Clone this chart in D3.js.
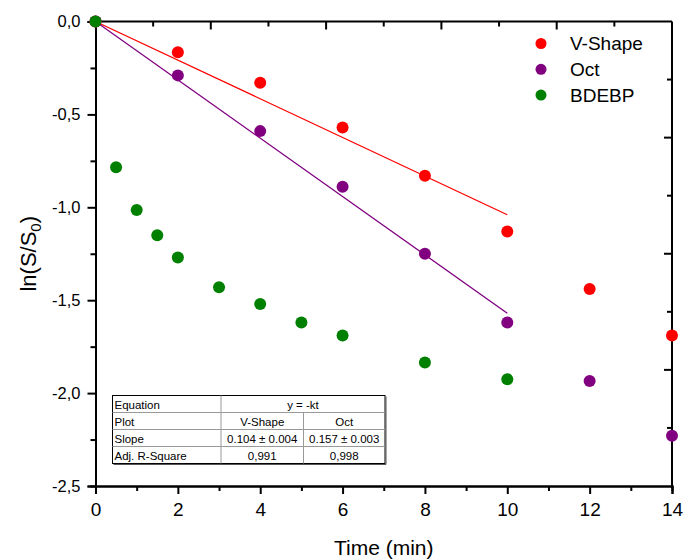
<!DOCTYPE html>
<html>
<head>
<meta charset="utf-8">
<script src="https://cdn.jsdelivr.net/npm/d3@7"></script>
<style>
  body { margin: 0; background: #fff; }
  svg { display: block; font-family: Arial, "Liberation Sans", sans-serif; }
</style>
</head>
<body>
<svg id="chart" width="685" height="559"></svg>
<script>
// data
const timeVShape = [0, 2, 4, 6, 8, 10, 12, 14];
const lnVShape = [0, -0.165, -0.33, -0.57, -0.83, -1.13, -1.44, -1.69];
const timeOct = [0, 2, 4, 6, 8, 10, 12, 14];
const lnOct = [0, -0.29, -0.59, -0.89, -1.25, -1.62, -1.935, -2.23];
const timeBdebp = [0, 0.5, 1, 1.5, 2, 3, 4, 5, 6, 8, 10];
const lnBdebp = [0, -0.785, -1.015, -1.15, -1.27, -1.43, -1.52, -1.62, -1.69, -1.835, -1.925];

// linear fits y = -k t, drawn over 0..10
const fitNames = ["V-Shape", "Oct"];
const fitSlopes = [0.104, 0.157];
const fitRange = [0, 10];

const xMajorTicks = [0, 2, 4, 6, 8, 10, 12, 14];
const xMinorTicks = [1, 3, 5, 7, 9, 11, 13];
const yMajorTicks = [0, -0.5, -1, -1.5, -2, -2.5];
const yMinorTicks = [-0.25, -0.75, -1.25, -1.75, -2.25];

const legendNames = ["V-Shape", "Oct", "BDEBP"];
const colors = ["#ff0000", "#800080", "#008000"];

const tableRows = [
  ["Equation", "y = -kt"],
  ["Plot", "V-Shape", "Oct"],
  ["Slope", "0.104 \u00b1 0.004", "0.157 \u00b1 0.003"],
  ["Adj. R-Square", "0,991", "0,998"]
];

const svg = d3.select("#chart");
const plotLeft = 95.5, plotRight = 672, plotTop = 21.5, plotBottom = 486;

const x = d3.scaleLinear().domain([0, 14]).range([plotLeft, plotRight]);
const y = d3.scaleLinear().domain([-2.5, 0]).range([plotBottom, plotTop]);
const fmt = v => d3.format(".1f")(v).replace(".", ",").replace("\u2212", "-");

// bottom axis
const gx = svg.append("g").attr("transform", `translate(0,${plotBottom})`);
gx.call(d3.axisBottom(x).tickValues(xMajorTicks).tickSize(8).tickPadding(9).tickFormat(d3.format("d")));
gx.append("g").call(d3.axisBottom(x).tickValues(xMinorTicks).tickSize(5).tickFormat(""));

// left axis
const gy = svg.append("g").attr("transform", `translate(${plotLeft},0)`);
gy.call(d3.axisLeft(y).tickValues(yMajorTicks).tickSize(8).tickPadding(7).tickFormat(fmt));
gy.append("g").call(d3.axisLeft(y).tickValues(yMinorTicks).tickSize(5).tickFormat(""));

svg.selectAll(".domain").attr("stroke", "#000").attr("stroke-width", 2);
svg.selectAll(".tick line").attr("stroke", "#000").attr("stroke-width", 2);
svg.selectAll(".tick text").attr("font-family", "Arial, 'Liberation Sans', sans-serif").attr("fill", "#000");
gx.selectAll(".tick text").attr("font-size", 19);
gy.selectAll(".tick text").attr("font-size", 16.5);

// top and right frame with inward ticks (10 and 8 divisions)
svg.append("line").attr("x1", plotLeft).attr("x2", plotRight).attr("y1", plotTop).attr("y2", plotTop)
  .attr("stroke", "#000").attr("stroke-width", 2);
svg.append("line").attr("x1", plotRight).attr("x2", plotRight).attr("y1", plotTop).attr("y2", plotBottom)
  .attr("stroke", "#000").attr("stroke-width", 2);
const topScale = d3.scaleLinear().domain([0, 10]).range([plotLeft, plotRight]);
svg.append("g").selectAll("line").data(d3.range(1, 10)).join("line")
  .attr("x1", d => topScale(d)).attr("x2", d => topScale(d))
  .attr("y1", plotTop).attr("y2", d => plotTop + (d % 2 === 0 ? 8 : 5))
  .attr("stroke", "#000").attr("stroke-width", 2);
const rightScale = d3.scaleLinear().domain([0, 8]).range([plotTop, plotBottom]);
svg.append("g").selectAll("line").data(d3.range(1, 8)).join("line")
  .attr("y1", d => rightScale(d)).attr("y2", d => rightScale(d))
  .attr("x1", plotRight).attr("x2", d => plotRight - (d % 2 === 0 ? 8 : 5))
  .attr("stroke", "#000").attr("stroke-width", 2);

// axis titles
svg.append("text").attr("x", (plotLeft + plotRight) / 2).attr("y", 555).attr("text-anchor", "middle")
  .attr("font-size", 21).text("Time (min)");
const yt = svg.append("text").attr("transform", `translate(36,${(plotTop + plotBottom) / 2}) rotate(-90)`)
  .attr("text-anchor", "middle").attr("font-size", 22);
yt.append("tspan").text("ln(S/S");
yt.append("tspan").attr("font-size", 15).attr("dy", 5).text("0");
yt.append("tspan").attr("dy", -5).text(")");

// fit lines
fitSlopes.forEach((k, i) => {
  svg.append("line")
    .attr("x1", x(fitRange[0])).attr("y1", y(-k * fitRange[0]))
    .attr("x2", x(fitRange[1])).attr("y2", y(-k * fitRange[1]))
    .attr("stroke", colors[i]).attr("stroke-width", 1.3);
});

// scatter points
const series = [
  { t: timeVShape, v: lnVShape },
  { t: timeOct, v: lnOct },
  { t: timeBdebp, v: lnBdebp }
];
series.forEach((s, i) => {
  svg.append("g").selectAll("circle").data(s.t.map((t, j) => [t, s.v[j]])).join("circle")
    .attr("cx", d => x(d[0])).attr("cy", d => y(d[1])).attr("r", 6)
    .attr("fill", colors[i]);
});

// legend
const lg = svg.append("g");
legendNames.forEach((name, i) => {
  const cy = 43.5 + i * 25.8;
  lg.append("circle").attr("cx", 541).attr("cy", cy).attr("r", 5.5).attr("fill", colors[i]);
  lg.append("text").attr("x", 570).attr("y", cy + 6.7).attr("font-size", 19).text(name);
});

// fit results table
const colX = [112.5, 221, 303.5, 385];
const rowY = [395.5, 412.5, 429.5, 446.5, 463.5];
const tb = svg.append("g");
tb.append("rect").attr("x", colX[0]).attr("y", rowY[0])
  .attr("width", colX[3] - colX[0]).attr("height", rowY[4] - rowY[0])
  .attr("fill", "#fff").attr("stroke", "#000").attr("stroke-width", 1);
// shadow edge bottom/right
tb.append("path")
  .attr("d", `M${colX[0] + 1},${rowY[4] + 1}H${colX[3] + 1}V${rowY[0] + 1}`)
  .attr("fill", "none").attr("stroke", "#555").attr("stroke-width", 1);
[1, 2, 3].forEach(r => {
  tb.append("line").attr("x1", colX[0]).attr("x2", colX[3]).attr("y1", rowY[r]).attr("y2", rowY[r])
    .attr("stroke", "#999").attr("stroke-width", 1);
});
tb.append("line").attr("x1", colX[1]).attr("x2", colX[1]).attr("y1", rowY[0]).attr("y2", rowY[4])
  .attr("stroke", "#999").attr("stroke-width", 1);
tb.append("line").attr("x1", colX[2]).attr("x2", colX[2]).attr("y1", rowY[1]).attr("y2", rowY[4])
  .attr("stroke", "#999").attr("stroke-width", 1);
tableRows.forEach((row, r) => {
  const by = rowY[r] + 13;
  tb.append("text").attr("x", colX[0] + 2).attr("y", by).attr("font-size", 11.5).text(row[0]);
  if (row.length === 2) {
    tb.append("text").attr("x", (colX[1] + colX[3]) / 2).attr("y", by)
      .attr("text-anchor", "middle").attr("font-size", 11.5).text(row[1]);
  } else {
    tb.append("text").attr("x", (colX[1] + colX[2]) / 2).attr("y", by)
      .attr("text-anchor", "middle").attr("font-size", 11.5).text(row[1]);
    tb.append("text").attr("x", (colX[2] + colX[3]) / 2).attr("y", by)
      .attr("text-anchor", "middle").attr("font-size", 11.5).text(row[2]);
  }
});
</script>
</body>
</html>
